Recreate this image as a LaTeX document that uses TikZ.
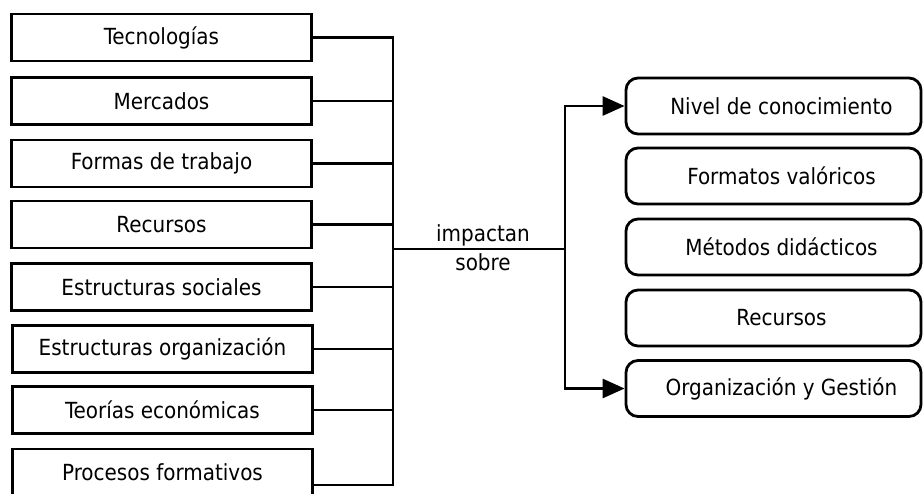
\documentclass[tikz,border=0pt]{standalone}
\usepackage{fontspec}
\setmainfont{DejaVu Sans Condensed}
\usetikzlibrary{arrows.meta}
\newcommand\rpad{\hspace*{16pt}}
\begin{document}
\begin{tikzpicture}[x=1pt,y=-1pt,
  txt/.style={font=\fontsize{22.2}{29}\selectfont},
  lbox/.style={draw, line width=2.8pt, minimum width=300pt, minimum height=47pt, inner sep=0pt, txt},
  rbox/.style={draw, line width=2.8pt, rounded corners=12pt, minimum width=295pt, minimum height=56pt, inner sep=0pt, txt},
  conn/.style={line width=2.8pt},
  arr/.style={conn, -{Triangle[length=22pt,width=19pt]}}]
\clip (0,0) rectangle (924,493);
\useasboundingbox (0,0) rectangle (924,493);
% left boxes
\node[lbox] (l1) at (161.5,37.5) {Tecnologías};
\node[lbox] (l2) at (161.5,101) {Mercados};
\node[lbox] (l3) at (161.5,163.5) {Formas de trabajo};
\node[lbox] (l4) at (161.5,224.5) {Recursos};
\node[lbox] (l5) at (161.5,287) {Estructuras sociales};
\node[lbox] (l6) at (162.5,349) {Estructuras organización};
\node[lbox] (l7) at (162.5,410) {Teorías económicas};
\node[lbox] (l8) at (162.5,472.5) {Procesos formativos};
% right boxes
\node[rbox] (r1) at (773.5,106) {\rpad Nivel de conocimiento};
\node[rbox] (r2) at (773.5,176) {\rpad Formatos valóricos};
\node[rbox] (r3) at (773.5,247) {\rpad Métodos didácticos};
\node[rbox] (r4) at (773.5,318) {\rpad Recursos};
\node[rbox] (r5) at (773.5,388.5) {\rpad Organización y Gestión};
% bus
\coordinate (jt) at (393,37.5);
\coordinate (jb) at (393,485);
\coordinate (jm) at (393,249);
\coordinate (sp) at (565,249);
\draw[conn] (l1.east) -- (jt) -- (jb) -- (l8.east |- jb);
\foreach \n in {l2,l3,l4,l5,l6,l7}
  \draw[conn] (\n.east) -- (\n.east -| jm);
\draw[conn] (jm) -- (sp);
\node[txt, align=center, inner sep=0pt] (lab) at (483,248) {impactan\\sobre};
\draw[arr] (sp) |- (r1.west);
\draw[arr] (sp) |- (r5.west);
\end{tikzpicture}
\end{document}
